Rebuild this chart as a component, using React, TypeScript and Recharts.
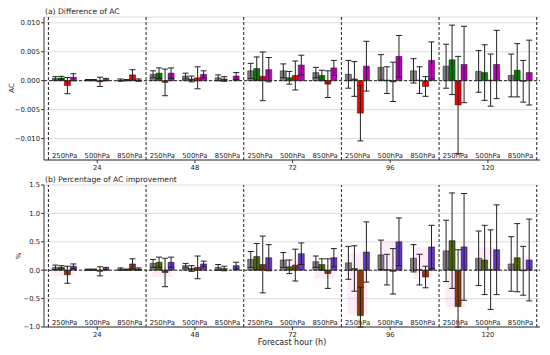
import React from 'react';
import {
    BarChart, Bar, XAxis, YAxis, CartesianGrid, ReferenceLine, ErrorBar
} from 'recharts';

const hours = ['24', '48', '72', '96', '120'];
const levels = ['250hPa', '500hPa', '850hPa'];

// (a) difference of AC, order: hour major, level minor
const grayA = [0.0004, 0.0001, 0.0001, 0.0011, 0.0008, 0.0005, 0.0017, 0.0017, 0.0014, 0.0011, 0.0023, 0.0017, 0.0025, 0.0016, 0.0009];
const grayAErr = [0.0003, 0.0001, 0.0002, 0.0006, 0.0005, 0.0005, 0.0013, 0.0012, 0.0009, 0.0024, 0.0022, 0.0021, 0.0038, 0.0036, 0.0037];
const greenA = [0.00045, 0.0001, 0.0001, 0.0013, 0.0003, 0.0003, 0.0021, 0.0005, 0.0009, 0.0003, 0.0001, 0.0001, 0.0036, 0.0014, 0.0018];
const greenAErr = [0.0003, 0.0001, 0.0001, 0.0009, 0.0005, 0.0004, 0.002, 0.0011, 0.0009, 0.003, 0.0023, 0.0023, 0.006, 0.0048, 0.0046];
const redA = [-0.00085, -0.0002, 0.001, -0.0003, 0.0005, 0.0, 0.00075, 0.0009, -0.0006, -0.0056, -0.0002, -0.001, -0.0042, 0.0001, -0.0001];
const redAErr = [0.0014, 0.0008, 0.0009, 0.0023, 0.0019, 0.0016, 0.0042, 0.0025, 0.0023, 0.0048, 0.0034, 0.0017, 0.0084, 0.0045, 0.0036];
const magA = [0.0006, 0.0002, 0.0001, 0.0013, 0.0011, 0.0008, 0.0019, 0.0027, 0.0022, 0.0025, 0.0042, 0.0035, 0.0028, 0.0028, 0.0014];
const magAErr = [0.0006, 0.0002, 0.0002, 0.0009, 0.0006, 0.0006, 0.0021, 0.0017, 0.0013, 0.0043, 0.0036, 0.0032, 0.0066, 0.0059, 0.0056];

// (b) percentage of AC improvement
const grayB = [0.05, 0.01, 0.02, 0.12, 0.08, 0.05, 0.19, 0.18, 0.15, 0.13, 0.27, 0.21, 0.34, 0.21, 0.11];
const grayBErr = [0.04, 0.01, 0.02, 0.07, 0.04, 0.05, 0.14, 0.13, 0.1, 0.29, 0.26, 0.24, 0.54, 0.48, 0.48];
const greenB = [0.05, 0.01, 0.01, 0.14, 0.03, 0.03, 0.24, 0.06, 0.1, 0.03, 0.01, 0.01, 0.52, 0.18, 0.22];
const greenBErr = [0.03, 0.01, 0.01, 0.09, 0.05, 0.04, 0.23, 0.12, 0.1, 0.4, 0.27, 0.27, 0.84, 0.61, 0.6];
const brownB = [-0.08, -0.02, 0.11, -0.04, 0.05, 0.0, 0.1, 0.09, -0.06, -0.8, -0.02, -0.12, -0.64, 0.01, -0.01];
const brownBErr = [0.15, 0.08, 0.09, 0.25, 0.2, 0.16, 0.5, 0.28, 0.26, 0.5, 0.4, 0.19, 1.0, 0.7, 0.43];
const purpleB = [0.07, 0.03, 0.02, 0.14, 0.11, 0.08, 0.22, 0.29, 0.22, 0.32, 0.5, 0.41, 0.41, 0.36, 0.18];
const purpleBErr = [0.04, 0.02, 0.02, 0.09, 0.05, 0.06, 0.23, 0.19, 0.16, 0.53, 0.42, 0.38, 0.94, 0.79, 0.72];
const shadeLo = [-0.1, 0, 0, -0.12, 0, 0, 0, 0, -0.15, -0.78, 0, -0.15, -0.65, 0, 0];
const shadeHi = [0.07, 0, 0.06, 0, 0.07, 0, 0, 0.2, 0, 0.3, 0.5, 0.4, 0, 0.4, 0.2];

const ticksA = [-0.01, -0.005, 0, 0.005, 0.01];
const ticksB = [-1.0, -0.5, 0, 0.5, 1.0, 1.5];

const FONT = '"DejaVu Sans", sans-serif';
const xDomain = [-0.135, 15.1];
const levTicks = Array.from({ length: 15 }, (_, i) => i + 0.5);
const groupEdges = [0, 3, 6, 9, 12, 15];

const minus = (s: string) => s.replace('-', '\u2212');

// one axis carries both rows: level names inside the axes, forecast hour below
const renderTick = (p: any) => {
    const i = Math.floor(p.payload.value);
    const mid = i % 3 === 1;
    return (
        <g key={p.index}>
            <text x={p.x} y={p.y - 2.5} textAnchor="middle" fontSize={6.8} fill="#222" fontFamily={FONT}>
                {levels[i % 3]}
            </text>
            {mid && <line x1={p.x} x2={p.x} y1={p.y} y2={p.y + 3} stroke="#333" strokeWidth={1} />}
            {mid && (
                <text x={p.x} y={p.y + 10} textAnchor="middle" fontSize={6.8} fill="#222" fontFamily={FONT}>
                    {hours[Math.floor(i / 3)]}
                </text>
            )}
        </g>
    );
};

type Series = { vals: number[]; errs: number[]; color: string };

const Panel = ({ top, height, marginTop, series, yDomain, yTicks, yFmt, shade }: any) => {
    const [yMin, yMax] = yDomain;
    const data = levTicks.map((x, i) => {
        const row: any = { x };
        series.forEach((s: Series, k: number) => {
            const v = s.vals[i];
            const e = s.errs[i];
            row['v' + k] = v;
            // error whiskers kept inside the axes, like the clipped original
            row['e' + k] = [Math.min(e, v - yMin), Math.min(e, yMax - v)];
        });
        if (shade) row.shade = [shade[0][i], shade[1][i]];
        return row;
    });
    return (
        <div style={{ position: 'absolute', left: 0, top }}>
            <BarChart width={550} height={height} data={data} barGap={0} barSize={6}
                margin={{ top: marginTop, right: 10, bottom: 0, left: 0 }}
                style={{ fontFamily: FONT }}>
                <CartesianGrid xAxisId="lev" vertical={false} stroke="#d4d4d4" strokeWidth={0.8} />
                <XAxis xAxisId="lev" dataKey="x" type="number" domain={xDomain} ticks={levTicks}
                    height={20} axisLine={{ stroke: '#333' }} tickLine={false} tickSize={0} tickMargin={0}
                    tick={renderTick} interval={0} allowDataOverflow />
                <XAxis xAxisId="top" orientation="top" dataKey="x" type="number" domain={xDomain}
                    height={0} tick={false} tickLine={false} axisLine={{ stroke: '#b0b0b0' }} />
                <XAxis xAxisId="shade" dataKey="x" type="number" domain={xDomain} hide />
                <YAxis domain={yDomain} ticks={yTicks} width={44} tickSize={3} tickMargin={1}
                    interval={0} allowDataOverflow tickFormatter={yFmt}
                    axisLine={{ stroke: '#333' }} tickLine={{ stroke: '#333' }}
                    tick={{ fontSize: 6.8, fill: '#222' }} />
                <YAxis yAxisId="r" orientation="right" domain={yDomain} width={0} tick={false}
                    tickLine={false} axisLine={{ stroke: '#b0b0b0' }} />
                {shade && (
                    <Bar xAxisId="shade" dataKey="shade" barSize={20} fill="#ff4fd0" fillOpacity={0.11}
                        isAnimationActive={false} />
                )}
                {series.map((s: Series, k: number) => (
                    <Bar key={k} xAxisId="lev" dataKey={'v' + k} fill={s.color} stroke="#111"
                        strokeWidth={0.5} isAnimationActive={false}>
                        <ErrorBar dataKey={'e' + k} width={3} stroke="#222" strokeWidth={1} direction="y" />
                    </Bar>
                ))}
                <ReferenceLine xAxisId="lev" y={0} stroke="#222" strokeDasharray="3 2" strokeWidth={1} />
                {groupEdges.map((g) => (
                    <ReferenceLine key={g} xAxisId="lev" x={g} stroke="#222" strokeDasharray="3 2" strokeWidth={1} />
                ))}
            </BarChart>
        </div>
    );
};

const label = (text: string, x: number, y: number, size: number, rotate = false, anchor = 'left'): React.ReactNode => (
    <div style={{
        position: 'absolute', left: x, top: y, fontSize: size, fontFamily: FONT, color: '#222',
        whiteSpace: 'nowrap', lineHeight: 1,
        transform: rotate ? 'translate(-50%, -50%) rotate(-90deg)' : anchor === 'center' ? 'translate(-50%, -50%)' : 'translateY(-50%)',
    }}>{text}</div>
);

const App: React.FC = () => {
    const seriesA: Series[] = [
        { vals: grayA, errs: grayAErr, color: '#808080' },
        { vals: greenA, errs: greenAErr, color: '#008000' },
        { vals: redA, errs: redAErr, color: '#ff0000' },
        { vals: magA, errs: magAErr, color: '#c000c0' },
    ];
    const seriesB: Series[] = [
        { vals: grayB, errs: grayBErr, color: '#887d84' },
        { vals: greenB, errs: greenBErr, color: '#4e6b0a' },
        { vals: brownB, errs: brownBErr, color: '#8b3a0a' },
        { vals: purpleB, errs: purpleBErr, color: '#6a35c9' },
    ];
    return (
        <div style={{ position: 'absolute', left: 0, top: 0, width: 550, height: 355, background: '#fff', overflow: 'hidden' }}>
            <Panel top={0} height={180} marginTop={17} series={seriesA}
                yDomain={[-0.0137, 0.011]} yTicks={ticksA}
                yFmt={(v: number) => minus(v.toFixed(3))} />
            <Panel top={170} height={177} marginTop={15} series={seriesB}
                yDomain={[-1.0, 1.5]} yTicks={ticksB} shade={[shadeLo, shadeHi]}
                yFmt={(v: number) => minus(v.toFixed(1))} />
            {label('(a) Difference of AC', 45, 12, 7.6)}
            {label('(b) Percentage of AC improvement', 45, 180, 7.6)}
            {label('AC', 12, 88, 7, true)}
            {label('%', 19, 256, 7, true)}
            {label('Forecast hour (h)', 292, 343, 8, false, 'center')}
        </div>
    );
};

export default App;
